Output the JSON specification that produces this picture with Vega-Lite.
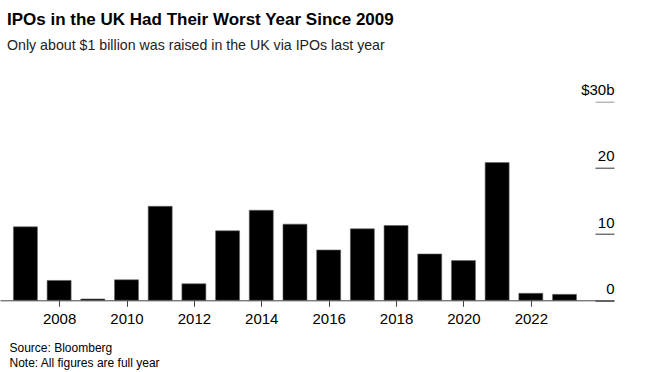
{
  "$schema": "https://vega.github.io/schema/vega-lite/v6.json",
  "width": 614,
  "height": 198.6,
  "autosize": "none",
  "padding": {"left": 0, "top": 101.7, "right": 35, "bottom": 71.7},
  "background": "white",
  "config": {"view": {"stroke": null}},
  "title": {
    "text": "IPOs in the UK Had Their Worst Year Since 2009",
    "subtitle": "Only about $1 billion was raised in the UK via IPOs last year",
    "anchor": "start",
    "dx": 7,
    "dy": -25,
    "font": "Liberation Sans",
    "fontSize": 17,
    "fontWeight": "bold",
    "color": "#000",
    "subtitleFont": "Liberation Sans",
    "subtitleFontSize": 14.2,
    "subtitleColor": "#222",
    "subtitlePadding": 10
  },
  "data": {
    "values": [
      {"year": 2007, "value": 11.1},
      {"year": 2008, "value": 3.0},
      {"year": 2009, "value": 0.2},
      {"year": 2010, "value": 3.1},
      {"year": 2011, "value": 14.2},
      {"year": 2012, "value": 2.5},
      {"year": 2013, "value": 10.5},
      {"year": 2014, "value": 13.6},
      {"year": 2015, "value": 11.5},
      {"year": 2016, "value": 7.6},
      {"year": 2017, "value": 10.8},
      {"year": 2018, "value": 11.3},
      {"year": 2019, "value": 7.0},
      {"year": 2020, "value": 6.0},
      {"year": 2021, "value": 20.8},
      {"year": 2022, "value": 1.06},
      {"year": 2023, "value": 0.9}
    ]
  },
  "mark": {"type": "bar", "size": 24, "color": "#000", "stroke": "#666", "strokeWidth": 0.6},
  "encoding": {
    "x": {
      "field": "year",
      "type": "quantitative",
      "scale": {"domain": [2006.394, 2024.32], "nice": false, "zero": false},
      "axis": {
        "values": [2008, 2010, 2012, 2014, 2016, 2018, 2020, 2022],
        "format": "d",
        "grid": false,
        "labelFont": "Liberation Sans",
        "labelFontSize": 15,
        "labelColor": "#000",
        "labelPadding": 5,
        "tickColor": "#444",
        "tickSize": 6,
        "domainColor": "#444",
        "title": ["Source: Bloomberg", "Note: All figures are full year"],
        "titleFont": "Liberation Sans",
        "titleFontSize": 12,
        "titleFontWeight": "normal",
        "titleColor": "#000",
        "titleAnchor": "start",
        "titleAlign": "left",
        "titleX": 9,
        "titleY": 51,
        "titleBaseline": "alphabetic",
        "titleLineHeight": 15
      }
    },
    "y": {
      "field": "value",
      "type": "quantitative",
      "scale": {"domain": [0, 30], "nice": false},
      "axis": {
        "orient": "right",
        "values": [0, 10, 20, 30],
        "labelExpr": "datum.value == 30 ? '$30b' : datum.label",
        "domain": false,
        "grid": false,
        "tickSize": -19,
        "tickColor": {"condition": {"test": "datum.value == 30", "value": "#999"}, "value": "#333"},
        "labelAlign": "right",
        "labelBaseline": "alphabetic",
        "labelOffset": -7,
        "labelPadding": 19,
        "labelFont": "Liberation Sans",
        "labelFontSize": 15,
        "labelColor": "#000",
        "title": null
      }
    }
  }
}
